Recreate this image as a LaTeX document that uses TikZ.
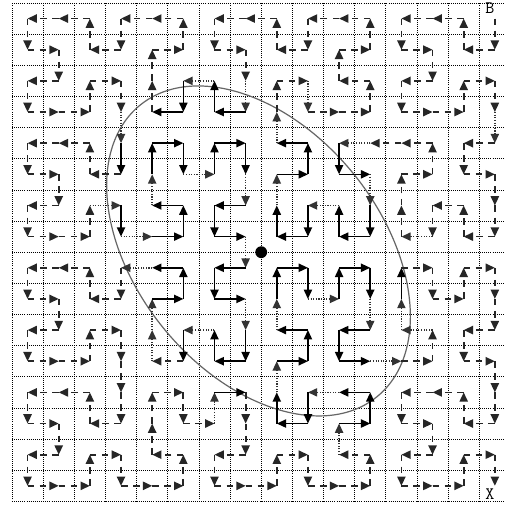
\documentclass[tikz,border=0pt]{standalone}
\usetikzlibrary{arrows.meta}
\newcount\hCa \newcount\hRa \newcount\hCb \newcount\hRb \newcount\hM
\newif\ifina \newif\ifinb
% cells counted as inside the query region: first and last column per row
\def\rowlo#1{\ifcase#1 99\or 99\or 5\or 4\or 3\or 3\or 3\or 3\or 3\or 4\or 4\or 5\or 6\or 8\else 99\fi}
\def\rowhi#1{\ifcase#1 -1\or -1\or 6\or 9\or 10\or 11\or 11\or 12\or 12\or 12\or 12\or 12\or 11\or 11\else -1\fi}
\def\hpath{15/0,15/1,14/1,14/0,13/0,12/0,12/1,13/1,13/2,12/2,12/3,13/3,14/3,14/2,15/2,15/3,%
15/4,14/4,14/5,15/5,15/6,15/7,14/7,14/6,13/6,13/7,12/7,12/6,12/5,13/5,13/4,12/4,%
11/4,10/4,10/5,11/5,11/6,11/7,10/7,10/6,9/6,9/7,8/7,8/6,8/5,9/5,9/4,8/4,%
8/3,8/2,9/2,9/3,10/3,11/3,11/2,10/2,10/1,11/1,11/0,10/0,9/0,9/1,8/1,8/0,%
7/0,6/0,6/1,7/1,7/2,7/3,6/3,6/2,5/2,5/3,4/3,4/2,4/1,5/1,5/0,4/0,%
3/0,3/1,2/1,2/0,1/0,0/0,0/1,1/1,1/2,0/2,0/3,1/3,2/3,2/2,3/2,3/3,%
3/4,3/5,2/5,2/4,1/4,0/4,0/5,1/5,1/6,0/6,0/7,1/7,2/7,2/6,3/6,3/7,%
4/7,5/7,5/6,4/6,4/5,4/4,5/4,5/5,6/5,6/4,7/4,7/5,7/6,6/6,6/7,7/7,%
7/8,6/8,6/9,7/9,7/10,7/11,6/11,6/10,5/10,5/11,4/11,4/10,4/9,5/9,5/8,4/8,%
3/8,3/9,2/9,2/8,1/8,0/8,0/9,1/9,1/10,0/10,0/11,1/11,2/11,2/10,3/10,3/11,%
3/12,3/13,2/13,2/12,1/12,0/12,0/13,1/13,1/14,0/14,0/15,1/15,2/15,2/14,3/14,3/15,%
4/15,5/15,5/14,4/14,4/13,4/12,5/12,5/13,6/13,6/12,7/12,7/13,7/14,6/14,6/15,7/15,%
8/15,8/14,9/14,9/15,10/15,11/15,11/14,10/14,10/13,11/13,11/12,10/12,9/12,9/13,8/13,8/12,%
8/11,9/11,9/10,8/10,8/9,8/8,9/8,9/9,10/9,10/8,11/8,11/9,11/10,10/10,10/11,11/11,%
12/11,13/11,13/10,12/10,12/9,12/8,13/8,13/9,14/9,14/8,15/8,15/9,15/10,14/10,14/11,15/11,%
15/12,15/13,14/13,14/12,13/12,12/12,12/13,13/13,13/14,12/14,12/15,13/15,14/15,14/14,15/14,15/15}
\tikzset{
  gridline/.style={black, line width=0.7pt, dash pattern=on 0.8pt off 1.1pt},
  arrowtip/.style={-{Triangle[length=8.5pt,width=7.5pt]}},
  solseg/.style={arrowtip, black, line width=1.4pt},
  dashseg/.style={arrowtip, black!85, line width=1.6pt, dash pattern=on 6pt off 5pt},
  dotseg/.style={arrowtip, black!80, line width=1.4pt, dash pattern=on 1pt off 1.4pt},
  region/.style={black!60, line width=1.1pt},
  label/.style={font=\ttfamily\fontsize{16}{16}\selectfont, inner sep=0pt}
}
\begin{document}
\begin{tikzpicture}
\fill[white] (-0.385,-0.115) rectangle (15.825,16.096);
\useasboundingbox (-0.385,-0.115) rectangle (15.825,16.096);
% grid
\foreach \k in {0,...,15} \draw[gridline] (\k,0) -- (\k,16);
\foreach \k in {0,...,16} \draw[gridline] (0,\k) -- (15.83,\k);
% cell centres along the curve
\foreach [count=\i from 0] \cc/\rr in \hpath {%
  \coordinate (p\i) at ({\cc+0.5},{15.5-\rr});
  \expandafter\xdef\csname hc\i\endcsname{\cc}%
  \expandafter\xdef\csname hr\i\endcsname{\rr}%
}
% query region
\draw[region, rotate around={-50.9:(7.913,8.04)}] (7.913,8.04) ellipse [x radius=6.03, y radius=3.93];
% curve segments
\foreach \i in {1,...,255}{%
  \pgfmathtruncatemacro\j{\i-1}%
  \hCa=\csname hc\j\endcsname\relax
  \hRa=\csname hr\j\endcsname\relax
  \hCb=\csname hc\i\endcsname\relax
  \hRb=\csname hr\i\endcsname\relax
  \ifnum\hCa<\rowlo{\hRa}\relax\inafalse\else\ifnum\hCa>\rowhi{\hRa}\relax\inafalse\else\inatrue\fi\fi
  \ifnum\hCb<\rowlo{\hRb}\relax\inbfalse\else\ifnum\hCb>\rowhi{\hRb}\relax\inbfalse\else\inbtrue\fi\fi
  \ifnum\hCa=\hCb
    \ifnum\hRa<\hRb \hM=\hRa \else \hM=\hRb \fi
  \else
    \ifnum\hCa<\hCb \hM=\hCa \else \hM=\hCb \fi
  \fi
  \def\sty{dashseg}%
  \ifina
    \ifinb \ifodd\hM \def\sty{dotseg}\else \def\sty{solseg}\fi \fi
  \else
    \ifinb \def\sty{dotseg}\fi
  \fi
  \ifnum\i=16 \def\sty{dotseg}\fi
  \edef\cmd{\noexpand\draw[\sty] (p\j) -- (p\i);}\cmd
}
% centre point
\node[circle, fill=black, inner sep=0pt, minimum size=0.38cm] (centre) at (8,8) {};
% labels
\node[label] (begin) at (15.34,15.82) {B};
\node[label] (end) at (15.34,0.24) {X};
\end{tikzpicture}
\end{document}
